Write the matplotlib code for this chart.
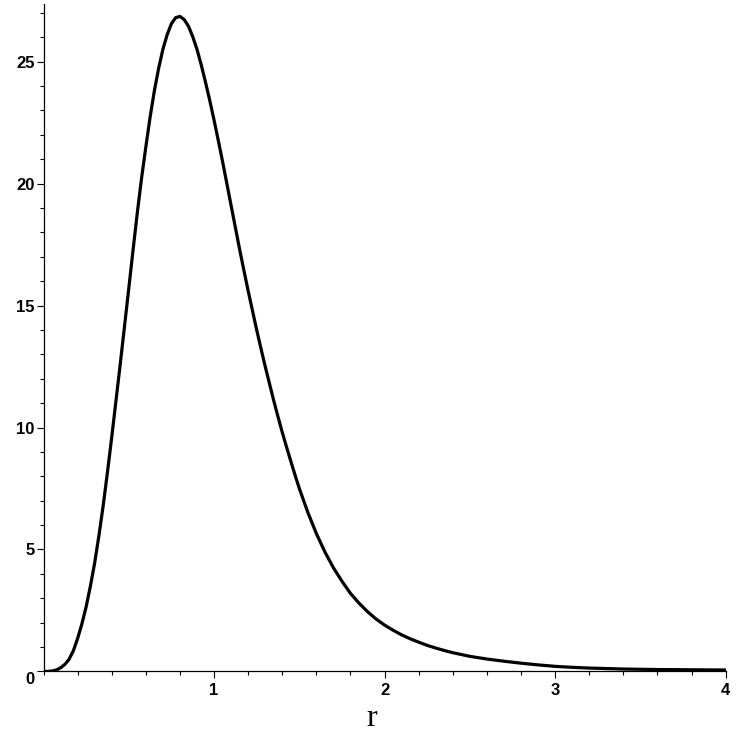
import matplotlib
matplotlib.use("Agg")
import matplotlib.pyplot as plt
import matplotlib.transforms as mtransforms
from matplotlib.ticker import MultipleLocator

# values
r_vals = [0.0, 0.025, 0.05, 0.075, 0.1, 0.125, 0.15, 0.175, 0.2, 0.225,
          0.25, 0.275, 0.3, 0.325, 0.35, 0.375, 0.4, 0.425, 0.45, 0.475,
          0.5, 0.525, 0.55, 0.575, 0.6, 0.625, 0.65, 0.675, 0.7, 0.725,
          0.75, 0.775, 0.8, 0.825, 0.85, 0.875, 0.9, 0.925, 0.95, 0.975,
          1.0, 1.025, 1.05, 1.075, 1.1, 1.125, 1.15, 1.175, 1.2, 1.225,
          1.25, 1.275, 1.3, 1.325, 1.35, 1.375, 1.4, 1.425, 1.45, 1.475,
          1.5, 1.55, 1.6, 1.65, 1.7, 1.75, 1.8, 1.85, 1.9, 1.95,
          2.0, 2.05, 2.1, 2.15, 2.2, 2.25, 2.3, 2.35, 2.4, 2.5,
          2.6, 2.7, 2.8, 2.9, 3.0, 3.1, 3.2, 3.3, 3.4, 3.5,
          3.6, 3.7, 3.8, 3.9, 4.0]
f_vals = [0.0, 0.003, 0.02, 0.06, 0.15, 0.29, 0.5, 0.85, 1.35, 1.95,
          2.65, 3.5, 4.45, 5.57, 6.8, 8.17, 9.6, 11.1, 12.6, 14.15,
          15.7, 17.27, 18.8, 20.22, 21.5, 22.72, 23.8, 24.72, 25.5, 26.1,
          26.55, 26.8, 26.85, 26.72, 26.45, 26.02, 25.5, 24.86, 24.15, 23.4,
          22.6, 21.76, 20.9, 20.0, 19.1, 18.2, 17.3, 16.44, 15.6, 14.8,
          14.0, 13.24, 12.5, 11.8, 11.1, 10.44, 9.8, 9.2, 8.62, 8.05,
          7.5, 6.52, 5.65, 4.9, 4.25, 3.7, 3.2, 2.8, 2.45, 2.15,
          1.9, 1.69, 1.5, 1.34, 1.2, 1.07, 0.96, 0.86, 0.77, 0.62,
          0.51, 0.42, 0.34, 0.27, 0.21, 0.17, 0.14, 0.12, 0.1, 0.09,
          0.08, 0.075, 0.07, 0.065, 0.06]

x_ticks = [1, 2, 3, 4]
y_ticks = [0, 5, 10, 15, 20, 25]

fig = plt.figure(figsize=(7.5, 7.5), dpi=100)
ax = fig.add_axes([0.058, 0.1047, 0.9096, 0.89])

ax.plot(r_vals, f_vals, color="black", lw=2.3,
        solid_joinstyle="round", solid_capstyle="round")

ax.set_xlim(0, 4)
ax.set_ylim(0, 27.36)
ax.spines["top"].set_visible(False)
ax.spines["right"].set_visible(False)
for s in ["left", "bottom"]:
    ax.spines[s].set_linewidth(0.9)

ax.set_xticks(x_ticks)
ax.set_yticks(y_ticks)
ax.xaxis.set_minor_locator(MultipleLocator(0.2))
ax.yaxis.set_minor_locator(MultipleLocator(1))
ax.tick_params(which="major", direction="out", length=5, width=0.8)
ax.tick_params(which="minor", direction="out", length=3, width=0.8)
ax.tick_params(axis="x", pad=3)
ax.tick_params(axis="y", pad=1.5)

for lab in ax.get_xticklabels() + ax.get_yticklabels():
    lab.set_fontfamily("Liberation Sans")
    lab.set_fontweight("bold")
    lab.set_fontsize(12)

# the "0" label sits a bit lower in the reference
zero_lab = ax.get_yticklabels()[0]
zero_lab.set_transform(zero_lab.get_transform()
                       + mtransforms.ScaledTranslation(0, -7 / 100, fig.dpi_scale_trans))

fig.text(371.7 / 750, 1 - 718 / 750, "r", family="Liberation Serif",
         fontsize=23, ha="center", va="center")

plt.savefig("out.png", dpi=100)
